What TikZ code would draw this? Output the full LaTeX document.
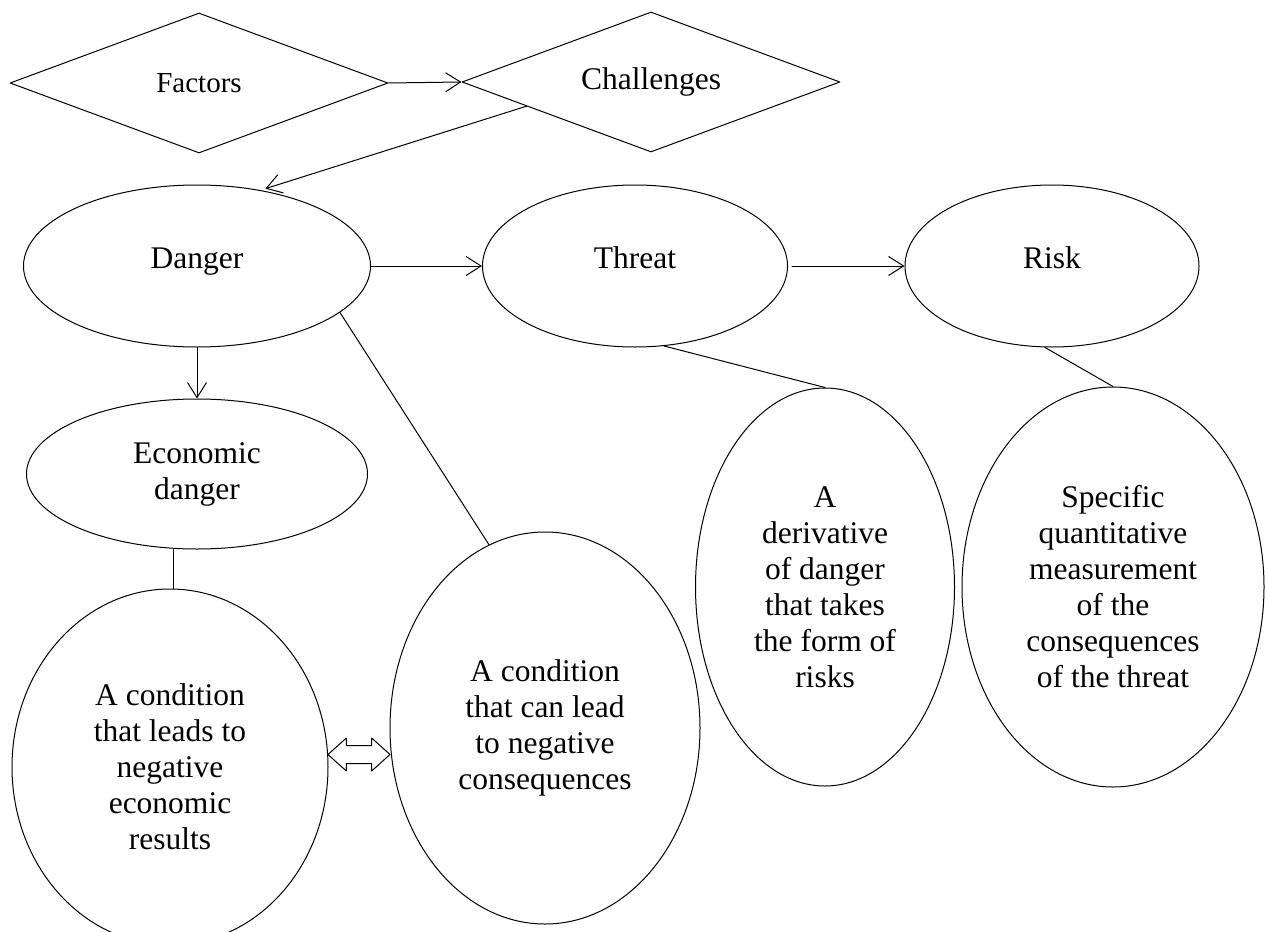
\documentclass[tikz,border=0pt]{standalone}
\usepackage{fontspec}
\setmainfont{Liberation Serif}
\usetikzlibrary{shapes.geometric,shapes.arrows,arrows.meta,calc}
\begin{document}
\begin{tikzpicture}[x=1pt,y=-1pt,line join=round,line cap=round,>={Straight Barb[length=15pt,width=19pt]},line width=1pt]
	\tikzset{every node/.style={font=\fontsize{31.5}{36}\selectfont,align=center,inner sep=0pt},
		rhomb/.style={draw,diamond,aspect=2.7,minimum width=378pt,minimum height=140pt},
		oval/.style={draw,ellipse},
		lifted/.style={text depth=16pt},
		dblarrow/.style={draw,double arrow,double arrow head extend=7.5pt,double arrow tip angle=84,inner ysep=8.5pt,inner xsep=0pt,minimum height=62pt}}
	\useasboundingbox (0,0) rectangle (1265,931);
	\node[rhomb,font=\fontsize{29}{33}\selectfont] (fac) at (199,83) {Factors};
	\node[rhomb] (chal) at (651,82) {Challenges};
	\node[oval,lifted,minimum width=347pt,minimum height=162pt] (dang) at (197,266) {Danger};
	\node[oval,lifted,minimum width=305pt,minimum height=162pt] (thr) at (635,266) {Threat};
	\node[oval,lifted,minimum width=294pt,minimum height=162pt] (risk) at (1052,266) {Risk};
	\node[oval,minimum width=341pt,minimum height=150pt] (econ) at (197,474) {Economic\\danger};
	\node[oval,minimum width=316pt,minimum height=356pt] (condA) at (170,767) {A condition\\that leads to\\negative\\economic\\results};
	\node[oval,minimum width=310pt,minimum height=392pt] (condB) at (545,728) {A condition\\that can lead\\to negative\\consequences};
	\node[oval,minimum width=259pt,minimum height=398pt] (deriv) at (825,587) {A\\derivative\\of danger\\that takes\\the form of\\risks};
	\node[oval,minimum width=302pt,minimum height=400pt] (spec) at (1113,587) {Specific\\quantitative\\measurement\\of the\\consequences\\of the threat};
	\draw[->] (fac.east) -- (chal.west);
	\draw[->,shorten >=5pt] (chal.191) -- (dang.50);
	\draw[->] (dang.east) -- (thr.west);
	\draw[->,shorten <=4pt] (thr.east) -- (risk.west);
	\draw[->] (dang.south) -- (econ.north);
	\draw ([xshift=3pt]condA.north |- econ.south) -- ([xshift=3pt]condA.north);
	\draw (dang.-18) -- (condB.107);
	\draw (thr.-70) -- (deriv.north);
	\draw (risk.265) -- (spec.north);
	\node[dblarrow] (link) at ($(condA.east)!0.5!(condB.west)+(0,7)$) {};
\end{tikzpicture}
\end{document}
